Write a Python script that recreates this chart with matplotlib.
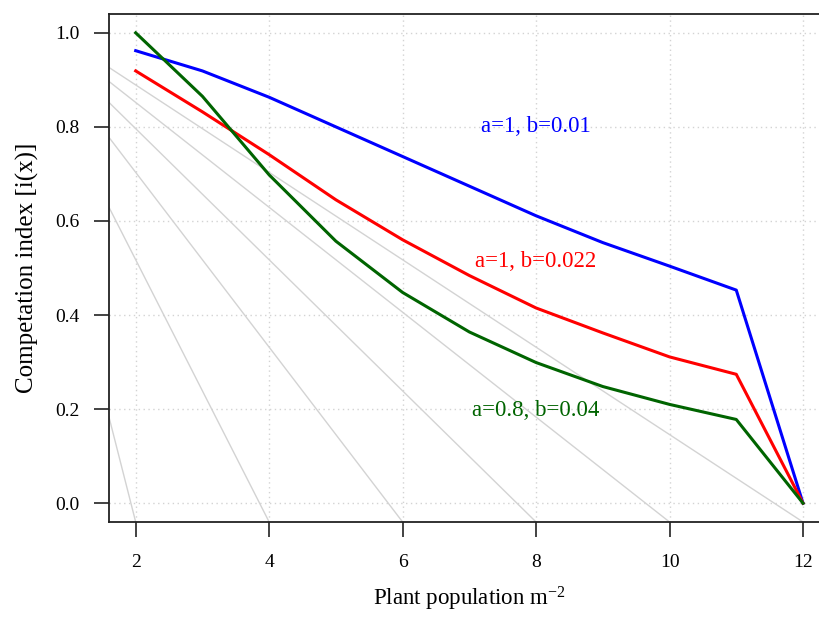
import matplotlib
matplotlib.use("Agg")
import matplotlib.pyplot as plt

plt.rcParams['font.family'] = ['Liberation Serif', 'DejaVu Serif']
plt.rcParams['mathtext.fontset'] = 'custom'
plt.rcParams['mathtext.rm'] = 'Liberation Serif'
plt.rcParams['mathtext.it'] = 'Liberation Serif:italic'

# data
density = [2, 3, 4, 5, 6, 7, 8, 9, 10, 11, 12]
ci_blue = [0.962, 0.919, 0.863, 0.800, 0.737, 0.674, 0.611, 0.554, 0.504, 0.453, 0.0]
ci_red = [0.919, 0.832, 0.741, 0.645, 0.560, 0.484, 0.415, 0.362, 0.311, 0.274, 0.0]
ci_green = [1.000, 0.865, 0.698, 0.557, 0.448, 0.364, 0.299, 0.248, 0.210, 0.178, 0.0]
labels = ["a=1, b=0.01", "a=1, b=0.022", "a=0.8, b=0.04"]
label_y = [0.80, 0.514, 0.198]
label_x = 8
# grey guide lines: common intercept and end points
guide_intercept = 1.075
guide_end_x = [2, 4, 6, 8, 10, 12]
guide_end_y = -0.04

xticks = [2, 4, 6, 8, 10, 12]
yticks = [0.0, 0.2, 0.4, 0.6, 0.8, 1.0]

W, H = 819, 617
fig = plt.figure(figsize=(W / 100, H / 100), dpi=100)
left, right, top, bottom = 109, 829.7, 14, 522
ax = fig.add_axes([left / W, 1 - bottom / H, (right - left) / W, (bottom - top) / H])
ax.set_xlim(1.6, 12.4)
ax.set_ylim(-0.04, 1.04)

for xt in xticks:
    ax.axvline(xt, color='#d3d3d3', lw=1, ls=(0, (1, 2.5)), zorder=0)
for yt in yticks:
    ax.axhline(yt, color='#d3d3d3', lw=1, ls=(0, (1, 2.5)), zorder=0)

for xe in guide_end_x:
    ax.axline((0, guide_intercept), (xe, guide_end_y), color='#d3d3d3', lw=1, zorder=1)

ax.plot(density, ci_blue, color='blue', lw=2.2, zorder=3)
ax.plot(density, ci_red, color='red', lw=2.2, zorder=3)
ax.plot(density, ci_green, color='#006400', lw=2.2, zorder=3)

for txt, yy, c in zip(labels, label_y, ['blue', 'red', '#006400']):
    ax.text(label_x, yy, txt, color=c, fontsize=16.5, ha='center', va='center')

ax.set_xticks(xticks)
ax.set_xticklabels([str(v) for v in xticks])
ax.set_yticks(yticks)
ax.set_yticklabels([f"{v:.1f}" for v in yticks])
ax.tick_params(axis='both', direction='out', length=11, width=1.2, color='#222222',
               labelsize=14, labelcolor='black')
ax.tick_params(axis='x', pad=12)
ax.tick_params(axis='y', pad=10)

for s in ax.spines.values():
    s.set_color('#222222')
    s.set_linewidth(1.3)
ax.spines['right'].set_visible(False)

ax.set_xlabel('Plant population m$^{\\mathrm{-2}}$', fontsize=16.5, labelpad=10)
ax.set_ylabel('Competation index [i(x)]', fontsize=18, labelpad=12)

fig.savefig('out.png', dpi=100)
